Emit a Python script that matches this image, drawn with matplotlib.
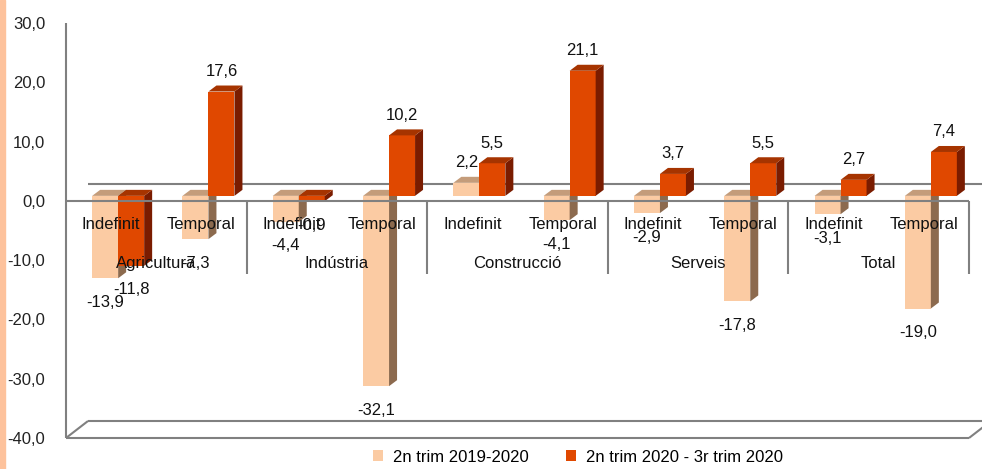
import numpy as np
import matplotlib
matplotlib.use('Agg')
import matplotlib.pyplot as plt
from matplotlib.patches import Polygon, Rectangle, Patch
from matplotlib.transforms import offset_copy

plt.rcParams['font.family'] = ['Liberation Sans', 'DejaVu Sans']

sectors = ['Agricultura', 'Indústria', 'Construcció', 'Serveis', 'Total']
contracts = ['Indefinit', 'Temporal']
series_names = ['2n trim 2019-2020', '2n trim 2020 - 3r trim 2020']
serie_a = [-13.9, -7.3, -4.4, -32.1, 2.2, -4.1, -2.9, -17.8, -3.1, -19.0]
serie_b = [-11.8, 17.6, -0.9, 10.2, 5.5, 21.1, 3.7, 5.5, 2.7, 7.4]
yticks = [-40, -30, -20, -10, 0, 10, 20, 30]

# colours: front, side, top
light = ('#FBCBA3', '#8C6A4E', '#C49C7A')
dark = ('#E04800', '#7A1C00', '#A63400')
grey = '#808080'

W, H = 982, 469
x_left, x_right, y_top, y_bot = 66, 969, 23, 438

fig = plt.figure(figsize=(W / 100, H / 100), dpi=100)
ax = fig.add_axes([x_left / W, (H - y_bot) / H, (x_right - x_left) / W, (y_bot - y_top) / H])
ax.set_xlim(-0.5, 9.5)
ax.set_ylim(-40, 30)
for s in ax.spines.values():
    s.set_visible(False)
ax.set_xticks([])
ax.set_yticks(yticks)
ax.set_yticklabels([f'{t:.1f}'.replace('.', ',') for t in yticks])
ax.tick_params(axis='y', length=0, pad=15, labelsize=12, labelcolor='#222222')

ppx = (x_right - x_left) / 10.0
ppy = (y_bot - y_top) / 70.0

# bars sit a bit inside the depth of the box
tb = offset_copy(ax.transData, fig=fig, x=7, y=5, units='dots')
bw = 26 / ppx
dx, dy = 8 / ppx, 6 / ppy
fx, fy = 22 / ppx, 17 / ppy

x = np.arange(len(serie_a))


def bar3d(xpos, vals, cols, z):
    ax.bar(xpos, vals, width=bw, align='edge', color=cols[0], transform=tb, zorder=z)
    for x0, v in zip(xpos, vals):
        x1 = x0 + bw
        top, bot = max(v, 0), min(v, 0)
        side = [(x1, top), (x1 + dx, top + dy), (x1 + dx, bot + dy), (x1, bot)]
        cap = [(x0, top), (x0 + dx, top + dy), (x1 + dx, top + dy), (x1, top)]
        ax.add_patch(Polygon(side, closed=True, color=cols[1], transform=tb, zorder=z, lw=0))
        ax.add_patch(Polygon(cap, closed=True, color=cols[2], transform=tb, zorder=z, lw=0))


bar3d(x - bw, serie_a, light, 2)
bar3d(x, serie_b, dark, 3)


def fmt(v):
    return f'{v:.1f}'.replace('.', ',')


for xs, vals in ((x - bw / 2, serie_a), (x + bw / 2, serie_b)):
    for xi, v in zip(xs, vals):
        off = 20 if v >= 0 else -24
        ax.annotate(fmt(v), xy=(xi, v), xycoords=tb, xytext=(0, off),
                    textcoords='offset pixels', ha='center', va='center',
                    fontsize=12, color='#111111', zorder=6)

lk = dict(color=grey, lw=1.5, clip_on=False, solid_capstyle='butt')
# back walls / floor
ax.plot([-0.5 + fx, 9.5 + fx], [fy, fy], zorder=1, **lk)
ax.plot([-0.5 + fx, 9.5 + fx], [-40 + fy, -40 + fy], zorder=1, **lk)
ax.plot([-0.5, -0.5 + fx], [-40, -40 + fy], zorder=1, **lk)
ax.plot([9.5, 9.5 + fx], [-40, -40 + fy], zorder=1, **lk)
ax.plot([-0.5, 9.5], [-40, -40], zorder=1, **lk)
ax.plot([-0.5, -0.5], [-40, 30], zorder=5, **lk)
# front category axis
ax.plot([-0.5, 9.5], [0, 0], zorder=5, **lk)
for k in range(1, 6):
    ax.plot([-0.5 + 2 * k] * 2, [0, -73 / ppy], zorder=5, **lk)

for i in x:
    ax.text(i, -4.0, contracts[i % 2], ha='center', va='center', fontsize=12,
            color='#111111', zorder=7)
for k, name in enumerate(sectors):
    ax.text(2 * k + 0.5, -10.5, name, ha='center', va='center', fontsize=12,
            color='#111111', zorder=7)

handles = [Patch(facecolor=light[0]), Patch(facecolor=dark[0])]
fig.legend(handles, series_names, loc='center', bbox_to_anchor=(578 / W, 1 - 457 / H),
           ncol=2, frameon=False, fontsize=12, handlelength=0.6, handleheight=0.6,
           handletextpad=0.6, columnspacing=2.2)

fig.add_artist(Rectangle((0, 0), 5 / W, 1, transform=fig.transFigure, color='#FDC29C'))

fig.savefig('out.png', dpi=100)
